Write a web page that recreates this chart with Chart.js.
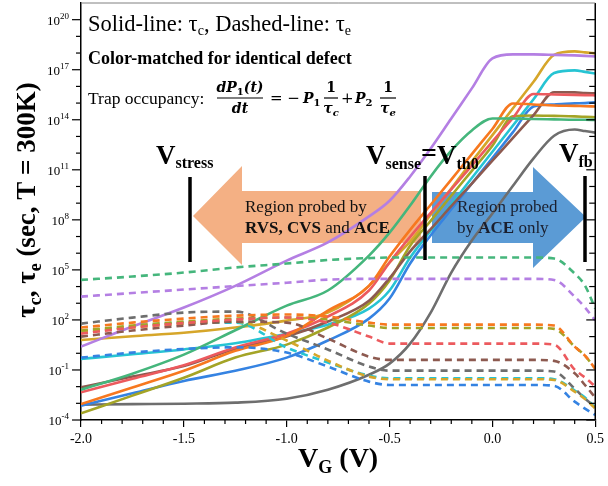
<!DOCTYPE html>
<html>
<head>
<meta charset="utf-8">
<script src="https://cdn.jsdelivr.net/npm/chart.js@4.4.1/dist/chart.umd.min.js"></script>
<style>
html, body { margin: 0; padding: 0; background: #fff; }
</style>
</head>
<body>
<canvas id="myChart" width="608" height="486"></canvas>
<script>
// gate voltage grid (V)
const vgValues = [-2.0, -1.75, -1.5, -1.25, -1.0, -0.8, -0.6, -0.5, -0.4, -0.3, -0.2, -0.1, 0.0, 0.1, 0.2, 0.3, 0.4, 0.45, 0.5];

// capture time constants tau_c (solid lines), seconds
const tauCPurple = [2.5, 40, 550, 1.1e4, 3.6e5, 4.4e6, 1.6e8, 1.4e9, 4e10, 1.9e12, 1.2e14, 7.6e15, 4.8e17, 8.3e17, 8.3e17, 7.8e17, 7.2e17, 6.8e17, 6.3e17];
const tauCGreen  = [6.6e-3, 0.06, 0.83, 24, 720, 5.8e3, 7.2e5, 1.7e7, 7.2e8, 4e10, 1.4e12, 2.3e13, 1.2e14, 1.2e14, 1.1e14, 1.05e14, 1e14, 1e14, 9.8e13];
const tauCOrange = [9e-4, 9e-3, 0.09, 1.4, 11, 360, 1.1e4, 6.3e5, 2.5e7, 8e8, 2.6e10, 8.7e11, 2.8e13, 9.5e14, 8.3e14, 7.2e14, 6.8e14, 6.5e14, 6.3e14];
const tauCRed    = [4.6e-3, 0.03, 0.19, 2.2, 15, 160, 5.8e3, 2.8e5, 9.5e6, 2.6e8, 6.8e9, 1.8e11, 4.9e12, 1.3e14, 3.5e15, 3.3e15, 3.1e15, 3e15, 2.9e15];
const tauCBrown  = [9e-3, 0.04, 0.17, 1.9, 10, 80, 1.4e3, 3.2e4, 1.3e6, 2.8e7, 6.6e8, 1.5e10, 3.5e11, 8.2e12, 1.9e14, 4.5e15, 4.4e15, 4e15, 3.8e15];
const tauCOlive  = [2.5e-4, 2.9e-3, 0.034, 0.55, 3.3, 35, 950, 2.3e4, 2.8e6, 8.7e7, 2.8e9, 8.7e10, 2.8e12, 1.6e14, 1.8e14, 1.7e14, 1.6e14, 1.5e14, 1.4e14];
const tauCGold   = [6.3, 10.5, 17, 35, 91, 275, 1.1e4, 2.8e5, 4.9e6, 2e8, 7.6e9, 3.1e11, 1.2e13, 4.9e14, 1.9e16, 7.8e17, 1.26e18, 1.1e18, 9.5e17];
const tauCCyan   = [0.46, 0.87, 1.7, 4, 15, 52, 480, 5.8e3, 5.5e5, 2.2e7, 8.3e8, 3.2e10, 1.2e12, 4.5e13, 1.7e15, 6.3e16, 9.1e16, 7.4e16, 6e16];
const tauCBlue   = [7.2e-4, 4e-3, 0.022, 0.09, 0.55, 5.8, 120, 1.9e3, 2.4e5, 1.2e7, 4.3e8, 1.5e10, 5.1e11, 1.8e13, 6.3e14, 8.3e14, 9.6e14, 1e15, 1.1e15];
const tauCGray   = [8.3e-4, 8.9e-4, 9.5e-4, 1.1e-3, 1.9e-3, 6.6e-3, 0.052, 0.24, 3.8, 275, 6.9e4, 5.8e6, 2.4e8, 1.1e10, 4.8e11, 1.1e13, 2.6e13, 2.1e13, 1.7e13];

// emission time constants tau_e (dashed lines), seconds
const tauEPurple = [2.5e3, 4.1e3, 6.6e3, 1.07e4, 1.7e4, 2.6e4, 2.9e4, 2.9e4, 2.9e4, 2.9e4, 2.9e4, 2.9e4, 2.9e4, 2.9e4, 2.9e4, 2.5e4, 2.5e3, 560, 93];
const tauEGreen  = [2.5e4, 4e4, 6.9e4, 1.4e5, 2.4e5, 3.9e5, 5.1e5, 5.5e5, 5.5e5, 5.5e5, 5.5e5, 5.5e5, 5.5e5, 5.5e5, 5.5e5, 4.8e5, 6e4, 1.15e4, 480];
const tauEOrange = [35, 69, 120, 180, 210, 160, 69, 52, 52, 52, 52, 52, 52, 52, 52, 46, 2.5, 0.72, 0.12];
const tauERed    = [15, 35, 65, 105, 140, 69, 10, 3.8, 3.8, 3.8, 3.8, 3.8, 3.8, 3.8, 3.8, 3.3, 0.105, 0.035, 0.01];
const tauEBrown  = [10, 23, 46, 79, 69, 7.6, 0.63, 0.4, 0.4, 0.4, 0.4, 0.4, 0.4, 0.4, 0.4, 0.35, 0.063, 0.0126, 2.2e-3];
const tauEOlive  = [23, 46, 79, 120, 140, 105, 46, 33, 33, 33, 33, 33, 33, 33, 33, 29, 2.5, 0.72, 0.12];
const tauEGold   = [17, 35, 60, 79, 5.8, 0.36, 0.04, 0.028, 0.028, 0.028, 0.028, 0.028, 0.028, 0.028, 0.028, 0.025, 5e-3, 1.8e-3, 5e-4];
const tauECyan   = [20, 40, 69, 69, 2.2, 0.28, 0.046, 0.032, 0.032, 0.032, 0.032, 0.032, 0.032, 0.032, 0.032, 0.028, 5.8e-3, 2.2e-3, 5.5e-4];
const tauEBlue   = [0.55, 1.1, 1.8, 2.3, 1.1, 0.16, 0.02, 0.0126, 0.0126, 0.0126, 0.0126, 0.0126, 0.0126, 0.0126, 0.0126, 0.0112, 1.26e-3, 4.8e-4, 2e-4];
const tauEGray   = [60, 138, 275, 316, 15, 1.7, 0.16, 0.091, 0.091, 0.091, 0.091, 0.091, 0.091, 0.091, 0.091, 0.08, 7.6e-3, 1.9e-3, 6.3e-4];

const defectColors = ['#b47fe3', '#45b67c', '#f7781f', '#ec5a5e', '#8d5a50', '#a4a426', '#d6a62a', '#26c4d3', '#3583e2', '#6e6e6e'];
const tauCSeries = [tauCPurple, tauCGreen, tauCOrange, tauCRed, tauCBrown, tauCOlive, tauCGold, tauCCyan, tauCBlue, tauCGray];
const tauESeries = [tauEPurple, tauEGreen, tauEOrange, tauERed, tauEBrown, tauEOlive, tauEGold, tauECyan, tauEBlue, tauEGray];

// labelled decades on the y axis
const yTickExps = [-4, -1, 2, 5, 8, 11, 14, 17, 20];

const SERIF = '"Liberation Serif", "Times New Roman", serif';
const MATH = '"DejaVu Serif", serif';

const toPoints = (arr) => arr.map((v, i) => ({ x: vgValues[i], y: v }));

let datasets = [];
for (let i = 0; i < tauESeries.length; i++) {
    datasets.push({
        label: 'tau_e ' + i,
        data: toPoints(tauESeries[i]),
        borderColor: defectColors[i],
        borderWidth: 2.6,
        borderDash: [7, 5],
        cubicInterpolationMode: 'monotone',
        pointRadius: 0,
        fill: false
    });
}
for (let i = 0; i < tauCSeries.length; i++) {
    datasets.push({
        label: 'tau_c ' + i,
        data: toPoints(tauCSeries[i]),
        borderColor: defectColors[i],
        borderWidth: 2.6,
        cubicInterpolationMode: 'monotone',
        pointRadius: 0,
        fill: false
    });
}

// draws a run of text pieces with their own fonts / vertical offsets
const drawParts = (c, x, y, parts, align) => {
    let w = 0;
    parts.forEach(p => { c.font = p.font; w += c.measureText(p.t).width; });
    let cx = x;
    if (align === 'center') cx = x - w / 2;
    if (align === 'right') cx = x - w;
    parts.forEach(p => {
        c.font = p.font;
        c.fillText(p.t, cx, y + (p.dy || 0));
        cx += c.measureText(p.t).width;
    });
    return cx;
};

const line = (c, x1, y1, x2, y2) => {
    c.beginPath();
    c.moveTo(x1, y1);
    c.lineTo(x2, y2);
    c.stroke();
};

const fraction = (c, cx, top, bottom, barY, barW) => {
    drawParts(c, cx, barY - 6, top, 'center');
    drawParts(c, cx, barY + 15, bottom, 'center');
    c.lineWidth = 1.2;
    line(c, cx - barW / 2, barY, cx + barW / 2, barY);
};

const arrowsPlugin = {
    id: 'arrows',
    beforeDatasetsDraw: (chart) => {
        const c = chart.ctx;
        c.save();
        c.fillStyle = '#f4b084';
        c.beginPath();
        c.moveTo(193, 216);
        c.lineTo(242, 166);
        c.lineTo(242, 191);
        c.lineTo(421, 191);
        c.lineTo(421, 243);
        c.lineTo(242, 243);
        c.lineTo(242, 265);
        c.closePath();
        c.fill();

        c.fillStyle = '#5b9bd5';
        c.beginPath();
        c.moveTo(432, 192);
        c.lineTo(533, 192);
        c.lineTo(533, 167);
        c.lineTo(586, 217);
        c.lineTo(533, 268);
        c.lineTo(533, 243);
        c.lineTo(432, 243);
        c.closePath();
        c.fill();
        c.restore();
    }
};

const decorPlugin = {
    id: 'decor',
    afterDraw: (chart) => {
        const c = chart.ctx;
        const xs = chart.scales.x;
        const ys = chart.scales.y;
        const a = chart.chartArea;
        c.save();
        c.strokeStyle = '#000';
        c.fillStyle = '#000';

        // minor ticks and mirrored right-hand ticks
        c.lineWidth = 1.2;
        for (let i = -20; i <= 5; i++) {
            if (i % 5 === 0) continue;
            const px = xs.getPixelForValue(i / 10);
            line(c, px, a.bottom, px, a.bottom + 4);
        }
        for (let k = -4; k <= 20; k++) {
            const py = ys.getPixelForValue(Math.pow(10, k));
            const major = (k + 4) % 3 === 0;
            line(c, a.left - (major ? 9 : 5), py, a.left, py);
            line(c, a.right, py, a.right - (major ? 9 : 6), py);
        }
        c.lineWidth = 1.5;
        line(c, a.right, a.top, a.right, a.bottom);
        c.strokeStyle = '#808080';
        c.lineWidth = 1;
        line(c, a.left, a.top, a.right, a.top);
        c.strokeStyle = '#000';

        c.textAlign = 'left';
        c.textBaseline = 'alphabetic';

        // y tick labels: 10 with a raised exponent
        yTickExps.forEach(k => {
            const py = ys.getPixelForValue(Math.pow(10, k));
            drawParts(c, a.left - 12, py + 5, [
                { t: '10', font: '13px ' + SERIF },
                { t: String(k), font: '9px ' + SERIF, dy: -6 }
            ], 'right');
        });

        // axis titles
        drawParts(c, (a.left + a.right) / 2, 467, [
            { t: 'V', font: 'bold 28px ' + SERIF },
            { t: 'G', font: 'bold 18px ' + SERIF, dy: 6 },
            { t: ' (V)', font: 'bold 28px ' + SERIF }
        ], 'center');
        c.save();
        c.translate(35, 200);
        c.rotate(-Math.PI / 2);
        drawParts(c, 0, 0, [
            { t: '\u03C4', font: 'bold 27px ' + SERIF },
            { t: 'c', font: 'bold 18px ' + SERIF, dy: 6 },
            { t: ', \u03C4', font: 'bold 27px ' + SERIF },
            { t: 'e', font: 'bold 18px ' + SERIF, dy: 6 },
            { t: ' (sec, T = 300K)', font: 'bold 27px ' + SERIF }
        ], 'center');
        c.restore();

        // header notes
        drawParts(c, 88, 31, [
            { t: 'Solid-line: \u03C4', font: '22.5px ' + SERIF },
            { t: 'c', font: '14px ' + SERIF, dy: 4 },
            { t: ', Dashed-line: \u03C4', font: '22.5px ' + SERIF },
            { t: 'e', font: '14px ' + SERIF, dy: 4 }
        ]);
        c.font = 'bold 18px ' + SERIF;
        c.fillText('Color-matched for identical defect', 88, 64);
        c.font = '17.5px ' + SERIF;
        c.fillText('Trap occupancy:', 88, 104);

        const bi = 'italic bold 14px ' + MATH;
        const bs = 'bold 10px ' + MATH;
        fraction(c, 240, [
            { t: 'dP', font: bi },
            { t: '1', font: bs, dy: 3 },
            { t: '(t)', font: bi }
        ], [{ t: 'dt', font: bi }], 98, 46);
        c.font = '15px ' + MATH;
        c.fillText('= \u2212', 270, 103);
        drawParts(c, 303, 103, [{ t: 'P', font: bi }, { t: '1', font: bs, dy: 3 }]);
        fraction(c, 331, [{ t: '1', font: 'bold 14px ' + MATH }],
            [{ t: '\u03C4', font: bi }, { t: 'c', font: 'italic bold 10px ' + MATH, dy: 3 }], 98, 14);
        c.font = '15px ' + MATH;
        c.fillText('+', 341, 103);
        drawParts(c, 355, 103, [{ t: 'P', font: bi }, { t: '2', font: bs, dy: 3 }]);
        fraction(c, 388, [{ t: '1', font: 'bold 14px ' + MATH }],
            [{ t: '\u03C4', font: bi }, { t: 'e', font: 'italic bold 10px ' + MATH, dy: 3 }], 98, 16);

        // voltage markers
        drawParts(c, 156, 164, [
            { t: 'V', font: 'bold 27px ' + SERIF },
            { t: 'stress', font: 'bold 16px ' + SERIF, dy: 4 }
        ]);
        drawParts(c, 366, 164, [
            { t: 'V', font: 'bold 27px ' + SERIF },
            { t: 'sense', font: 'bold 16px ' + SERIF, dy: 5 },
            { t: '=', font: 'bold 28px ' + SERIF, dy: -2 },
            { t: 'V', font: 'bold 27px ' + SERIF },
            { t: 'th0', font: 'bold 16px ' + SERIF, dy: 5 }
        ]);
        drawParts(c, 559, 162, [
            { t: 'V', font: 'bold 27px ' + SERIF },
            { t: 'fb', font: 'bold 16px ' + SERIF, dy: 5 }
        ]);
        c.lineWidth = 3.5;
        line(c, 190, 177, 190, 262);
        line(c, 425, 176, 425, 260);
        line(c, 585, 176, 585, 262);

        // arrow captions
        c.fillStyle = '#111';
        c.font = '17px ' + SERIF;
        c.fillText('Region probed by', 245, 212);
        drawParts(c, 245, 233, [
            { t: 'RVS, CVS', font: 'bold 17px ' + SERIF },
            { t: ' and ', font: '17px ' + SERIF },
            { t: 'ACE', font: 'bold 17px ' + SERIF }
        ]);
        c.fillStyle = '#1a1f2e';
        c.font = '17px ' + SERIF;
        c.fillText('Region probed', 457, 212);
        drawParts(c, 457, 233, [
            { t: 'by ', font: '17px ' + SERIF },
            { t: 'ACE', font: 'bold 17px ' + SERIF },
            { t: ' only', font: '17px ' + SERIF }
        ]);
        c.restore();
    }
};

const ctx = document.getElementById('myChart').getContext('2d');
const myChart = new Chart(ctx, {
    type: 'line',
    plugins: [arrowsPlugin, decorPlugin],
    data: { datasets: datasets },
    options: {
        responsive: false,
        animation: false,
        devicePixelRatio: 1,
        layout: { padding: { left: 0, right: 10, top: 3, bottom: 0 } },
        plugins: { legend: { display: false }, tooltip: { enabled: false } },
        scales: {
            x: {
                type: 'linear',
                min: -2.0,
                max: 0.5,
                afterFit: (s) => { s.height = 66; },
                border: { color: '#000', width: 1.5 },
                grid: { drawOnChartArea: false, drawTicks: true, tickLength: 7, color: '#000', lineWidth: 1.2 },
                ticks: {
                    stepSize: 0.5,
                    padding: 4,
                    color: '#000',
                    font: { family: SERIF, size: 14 },
                    callback: (v) => Number(v).toFixed(1)
                }
            },
            y: {
                type: 'logarithmic',
                min: 1e-4,
                max: 1e21,
                afterFit: (s) => { s.width = 81; },
                afterBuildTicks: (s) => { s.ticks = yTickExps.map(k => ({ value: Math.pow(10, k) })); },
                border: { color: '#000', width: 1.5 },
                grid: { drawOnChartArea: false, drawTicks: false },
                ticks: { display: false }
            }
        }
    }
});
</script>
</body>
</html>
